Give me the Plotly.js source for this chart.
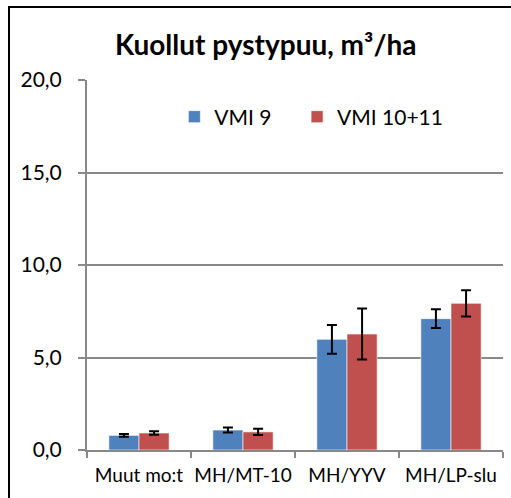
<!DOCTYPE html>
<html>
<head>
<meta charset="utf-8">
<script src="https://cdn.plot.ly/plotly-3.0.1.min.js"></script>
<style>
  html, body { margin: 0; padding: 0; background: #fff; }
  #wrap { position: relative; width: 511px; height: 498px; overflow: hidden; }
  #chart { position: absolute; left: 0; top: 0; width: 511px; height: 498px; }
  #frame { position: absolute; left: 8px; top: 6px; width: 520px; height: 520px; border: 2px solid #000; box-sizing: border-box; pointer-events: none; }
</style>
</head>
<body>
<div id="wrap">
  <div id="chart"></div>
  <div id="frame"></div>
</div>
<script>
const categories = ["Muut mo:t", "MH/MT-10", "MH/YYV", "MH/LP-slu"];
const seriesNames = ["VMI 9", "VMI 10+11"];
const vmi9 = [0.79, 1.08, 5.98, 7.10];
const vmi9Err = [0.08, 0.13, 0.78, 0.51];
const vmi1011 = [0.92, 0.98, 6.27, 7.93];
const vmi1011Err = [0.09, 0.17, 1.38, 0.71];
const colors = ["#4F81BD", "#C0504D"];
const yTicks = [0, 5, 10, 15, 20];

const font = "Lato, 'Open Sans', sans-serif";

function barTrace(name, y, err, color, legendId) {
  return {
    type: "bar",
    name: name,
    legend: legendId,
    x: categories,
    y: y,
    marker: { color: color, line: { color: "rgba(255,255,255,0.6)", width: 1 } },
    error_y: { type: "data", array: err, visible: true, color: "#000", thickness: 2, width: 5 },
    hoverinfo: "none"
  };
}

const data = [
  barTrace(seriesNames[0], vmi9, vmi9Err, colors[0], "legend"),
  barTrace(seriesNames[1], vmi1011, vmi1011Err, colors[1], "legend2")
];

function legendAt(x) {
  return {
    orientation: "h",
    x: x, xanchor: "left",
    y: 0.9, yanchor: "middle",
    font: { family: font, size: 21, color: "#000" },
    bgcolor: "rgba(0,0,0,0)",
    itemwidth: 30
  };
}

const layout = {
  width: 511, height: 498,
  margin: { l: 87, r: 8, t: 80, b: 48 },
  paper_bgcolor: "#fff", plot_bgcolor: "#fff",
  separators: ", ",
  font: { family: font, color: "#000", size: 16 },
  title: {
    text: "<b>Kuollut pystypuu, m³/ha</b>",
    font: { family: font, size: 28, color: "#000" },
    x: 0.52, xref: "container", xanchor: "center",
    y: 0.91, yref: "container", yanchor: "middle"
  },
  barmode: "group",
  bargap: 0.42,
  bargroupgap: 0,
  showlegend: true,
  legend: legendAt(0.21),
  legend2: legendAt(0.505),
  xaxis: {
    type: "category",
    showline: true, linecolor: "#888", linewidth: 2,
    ticks: "outside", tickson: "boundaries", ticklen: 6, tickcolor: "#888", tickwidth: 2,
    tickfont: { family: font, size: 19, color: "#000" },
    tickangle: 0,
    ticklabelstandoff: 7,
    showgrid: false, zeroline: false
  },
  yaxis: {
    range: [0, 20],
    tickvals: yTicks,
    tickformat: ".1f",
    showline: true, linecolor: "#888", linewidth: 2,
    ticks: "outside", ticklen: 7, tickcolor: "#888", tickwidth: 2,
    showgrid: true, gridcolor: "#888", gridwidth: 2,
    zeroline: false,
    tickfont: { family: font, size: 21, color: "#000" },
    ticklabelstandoff: 12
  }
};

Plotly.newPlot("chart", data, layout, { staticPlot: true, displayModeBar: false });
</script>
</body>
</html>
